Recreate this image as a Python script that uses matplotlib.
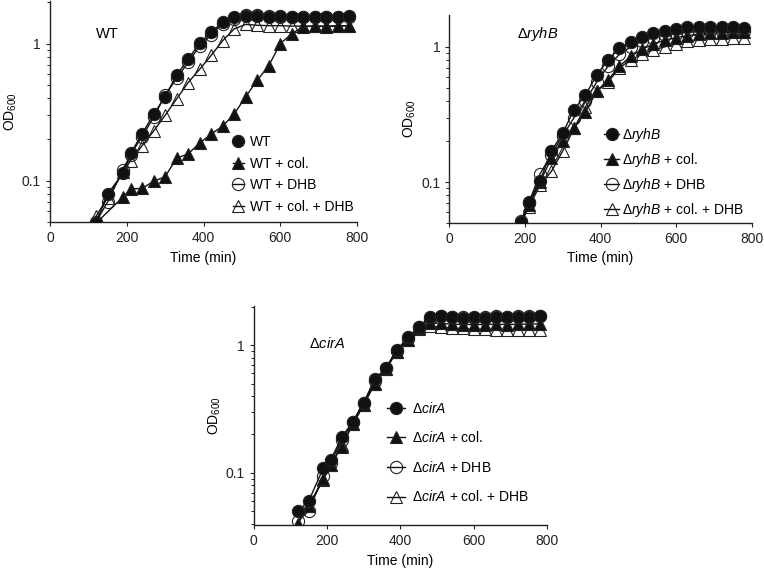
import matplotlib
matplotlib.use("Agg")
import matplotlib.pyplot as plt

plt.rcParams['font.family'] = ['Liberation Sans', 'DejaVu Sans']
plt.rcParams['mathtext.fontset'] = 'custom'
plt.rcParams['mathtext.rm'] = 'Liberation Sans'
plt.rcParams['mathtext.it'] = 'Liberation Sans:italic'
plt.rcParams['font.size'] = 10

# ---- data ----
t_wt = [120, 150, 190, 210, 240, 270, 300, 330, 360, 390, 420, 450, 480, 510,
        540, 570, 600, 630, 660, 690, 720, 750, 780]
t_wt_col = [120, 190, 210, 240, 270, 300, 330, 360, 390, 420, 450, 480, 510,
            540, 570, 600, 630, 660, 690, 720, 750, 780]

wt = [0.049, 0.080, 0.113, 0.158, 0.22, 0.305, 0.41, 0.59, 0.77, 1.01, 1.21, 1.43, 1.57,
      1.60, 1.58, 1.57, 1.58, 1.57, 1.57, 1.56, 1.57, 1.57, 1.58]
wt_col = [0.049, 0.076, 0.087, 0.088, 0.099, 0.107, 0.146, 0.157, 0.188, 0.219, 0.25, 0.307,
          0.41, 0.54, 0.69, 1.0, 1.18, 1.33, 1.34, 1.33, 1.34, 1.35]
wt_dhb = [0.050, 0.070, 0.120, 0.155, 0.21, 0.29, 0.42, 0.56, 0.73, 0.96, 1.16, 1.40, 1.52,
          1.62, 1.62, 1.58, 1.56, 1.56, 1.55, 1.55, 1.55, 1.56, 1.56]
wt_col_dhb = [0.055, 0.075, 0.115, 0.14, 0.18, 0.23, 0.30, 0.395, 0.52, 0.65, 0.82, 1.05, 1.28,
              1.38, 1.36, 1.35, 1.35, 1.34, 1.34, 1.34, 1.34, 1.35, 1.35]

t_ryhb = [190, 210, 240, 270, 300, 330, 360, 390, 420, 450, 480, 510, 540, 570,
          600, 630, 660, 690, 720, 750, 780]
ryhb = [0.051, 0.071, 0.102, 0.17, 0.23, 0.344, 0.44, 0.62, 0.80, 0.98, 1.09, 1.19, 1.26,
        1.30, 1.35, 1.39, 1.40, 1.39, 1.40, 1.39, 1.37]
ryhb_col = [0.050, 0.068, 0.10, 0.15, 0.20, 0.25, 0.33, 0.47, 0.57, 0.72, 0.85, 0.96, 1.05,
            1.12, 1.17, 1.21, 1.24, 1.26, 1.27, 1.28, 1.28]
ryhb_dhb = [0.052, 0.070, 0.115, 0.16, 0.22, 0.30, 0.40, 0.55, 0.72, 0.88, 1.00, 1.10, 1.17,
            1.22, 1.25, 1.28, 1.30, 1.30, 1.31, 1.31, 1.30]
ryhb_col_dhb = [0.050, 0.065, 0.095, 0.12, 0.17, 0.25, 0.36, 0.47, 0.55, 0.70, 0.80, 0.88, 0.95,
                1.00, 1.05, 1.10, 1.12, 1.14, 1.15, 1.16, 1.16]

t_cira = [120, 150, 190, 210, 240, 270, 300, 330, 360, 390, 420, 450, 480, 510,
          540, 570, 600, 630, 660, 690, 720, 750, 780]
cira = [0.050, 0.060, 0.109, 0.126, 0.19, 0.25, 0.354, 0.54, 0.66, 0.91, 1.15, 1.39, 1.66,
        1.70, 1.66, 1.64, 1.66, 1.64, 1.65, 1.66, 1.66, 1.67, 1.68]
cira_col = [0.040, 0.055, 0.090, 0.115, 0.16, 0.24, 0.34, 0.50, 0.65, 0.88, 1.10, 1.35, 1.50,
            1.48, 1.46, 1.45, 1.45, 1.45, 1.46, 1.45, 1.46, 1.46, 1.47]
cira_dhb = [0.042, 0.050, 0.095, 0.12, 0.18, 0.25, 0.35, 0.52, 0.66, 0.90, 1.12, 1.38, 1.60,
            1.68, 1.66, 1.65, 1.64, 1.66, 1.68, 1.67, 1.68, 1.68, 1.70]
cira_col_dhb = [0.040, 0.055, 0.088, 0.115, 0.165, 0.24, 0.34, 0.50, 0.65, 0.88, 1.10, 1.33, 1.42,
                1.38, 1.36, 1.35, 1.33, 1.33, 1.32, 1.32, 1.32, 1.32, 1.32]

wt_labels = ["WT", "WT + col.", "WT + DHB", "WT + col. + DHB"]
ryhb_labels = [r"$\mathrm{Δ}\mathit{ryhB}$", r"$\mathrm{Δ}\mathit{ryhB}$ + col.",
               r"$\mathrm{Δ}\mathit{ryhB}$ + DHB", r"$\mathrm{Δ}\mathit{ryhB}$ + col. + DHB"]
cira_labels = [r"$\mathrm{Δ}\mathit{cirA}$", r"$\mathrm{Δ}\mathit{cirA}$ + col.",
               r"$\mathrm{Δ}\mathit{cirA}$ + DHB", r"$\mathrm{Δ}\mathit{cirA}$ + col. + DHB"]

styles = [dict(marker='o', mfc='#111111'),
          dict(marker='^', mfc='#111111'),
          dict(marker='o', mfc='none'),
          dict(marker='^', mfc='none')]
zorders = [5, 4, 3, 2]


def panel(ax, series, labels, title, title_xy, ylim, leg_anchor, handlelen, spacing, textpad):
    handles = []
    for (t, y), lab, st, z in zip(series, labels, styles, zorders):
        h, = ax.plot(t, y, color='#111111', lw=1.0, ms=8.8, mec='#222222', mew=0.8,
                     label=lab, zorder=z, **st)
        handles.append(h)
    ax.set_yscale('log')
    ax.set_xlim(0, 800)
    ax.set_ylim(*ylim)
    ax.set_xticks([0, 200, 400, 600, 800])
    ax.set_yticks([0.1, 1])
    ax.set_yticklabels(['0.1', '1'])
    ax.spines['top'].set_visible(False)
    ax.spines['right'].set_visible(False)
    for s in ['left', 'bottom']:
        ax.spines[s].set_linewidth(1.0)
        ax.spines[s].set_color('#222222')
    ax.tick_params(direction='out', length=3, width=0.8, labelsize=10, colors='#222222')
    ax.tick_params(which='minor', length=2.5, width=0.6)
    ax.set_xlabel('Time (min)', fontsize=10, labelpad=4)
    ax.set_ylabel('OD$_{600}$', fontsize=10, labelpad=2)
    ax.text(title_xy[0], title_xy[1], title, transform=ax.transAxes, fontsize=10.5,
            ha='left', va='center')
    ax.legend(handles=handles, loc='upper left', bbox_to_anchor=leg_anchor, frameon=False,
              handlelength=handlelen, handletextpad=textpad, labelspacing=spacing,
              borderpad=0, fontsize=10, numpoints=1)


fig = plt.figure(figsize=(7.64, 5.76), dpi=100)
ax1 = fig.add_axes([0.0654, 0.6146, 0.402, 0.3840])
ax2 = fig.add_axes([0.588, 0.613, 0.396, 0.361])
ax3 = fig.add_axes([0.332, 0.0885, 0.384, 0.380])

panel(ax1, [(t_wt, wt), (t_wt_col, wt_col), (t_wt, wt_dhb), (t_wt, wt_col_dhb)],
      wt_labels, "WT", (0.15, 0.85), (0.05, 2.05), (0.572, 0.425), 0.8, 0.55, 0.45)
panel(ax2, [(t_ryhb, ryhb), (t_ryhb, ryhb_col), (t_ryhb, ryhb_dhb), (t_ryhb, ryhb_col_dhb)],
      ryhb_labels, r"$\mathit{Δryh B}$", (0.225, 0.91), (0.05, 1.72), (0.49, 0.50), 1.05, 0.5, 0.2)
panel(ax3, [(t_cira, cira), (t_cira, cira_col), (t_cira, cira_dhb), (t_cira, cira_col_dhb)],
      cira_labels, r"$\mathit{Δcir A}$", (0.19, 0.83), (0.039, 2.02), (0.43, 0.6), 1.3, 1.05, 0.5)

fig.savefig('out.png', dpi=100, facecolor='white')
